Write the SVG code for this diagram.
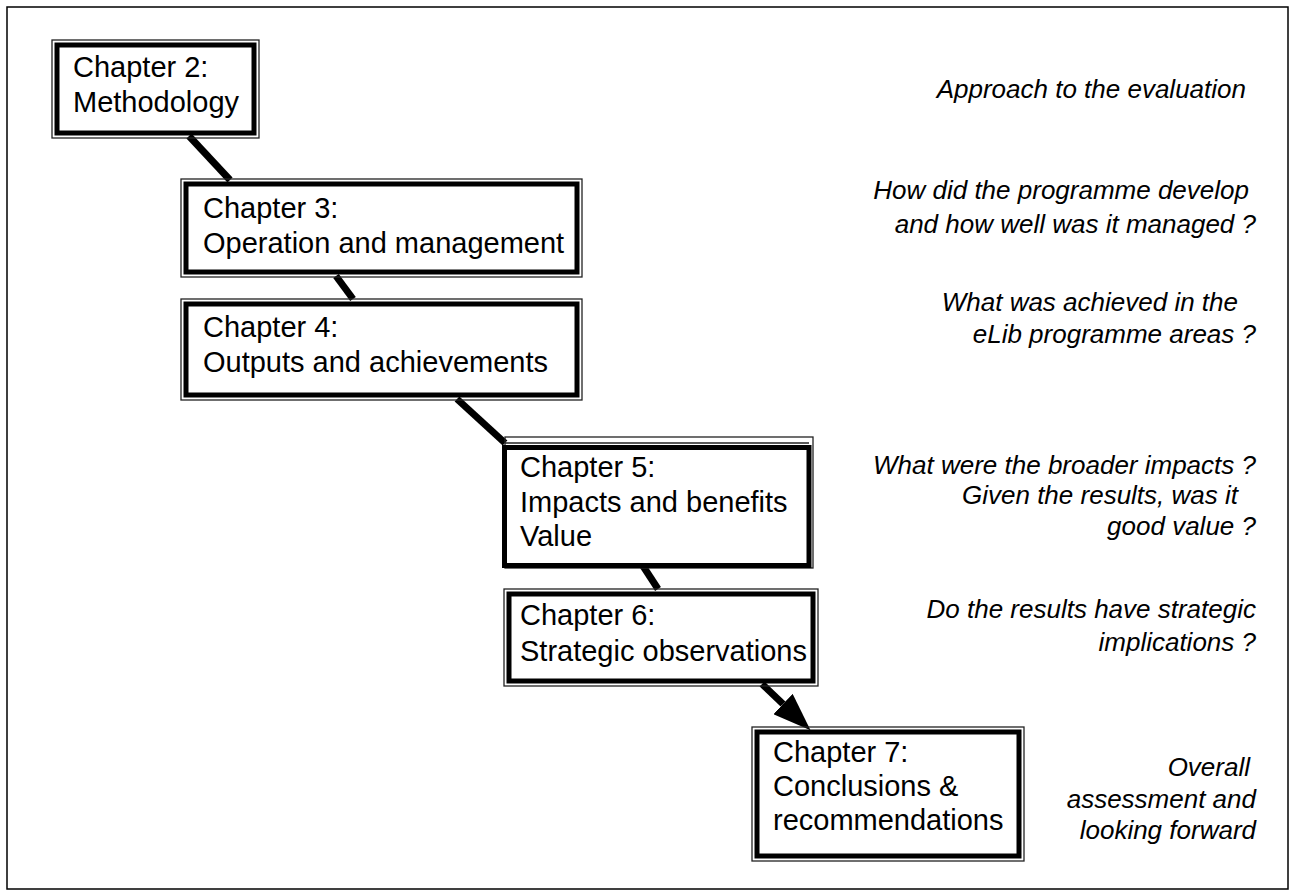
<svg xmlns="http://www.w3.org/2000/svg" width="1295" height="896" viewBox="0 0 1295 896">
<style>
.thin{fill:none;stroke:#222;stroke-width:1.3}
.thick{fill:#fff;stroke:#000;stroke-width:5}
.bt{font-family:"Liberation Sans",Arial,sans-serif;font-size:29px;fill:#000}
.it{font-family:"Liberation Sans",Arial,sans-serif;font-size:26px;font-style:italic;fill:#000;text-anchor:end}
.conn{stroke:#000;stroke-width:7;fill:none}
</style>
<defs>
<marker id="ah" viewBox="0 0 38 28" refX="0" refY="14" markerWidth="38" markerHeight="28" markerUnits="userSpaceOnUse" orient="auto">
<path d="M0,0 L38,14 L0,28 z" fill="#000"/>
</marker>
</defs>
<rect x="0" y="0" width="1295" height="896" fill="#fff"/>
<rect x="7" y="7" width="1281" height="882" fill="none" stroke="#000" stroke-width="1.5"/>
<g id="connectors">
<line class="conn" x1="189" y1="136" x2="230" y2="180"/>
<line class="conn" x1="336" y1="276" x2="353" y2="299"/>
<line class="conn" x1="457" y1="399" x2="505" y2="443"/>
<line class="conn" x1="643" y1="566" x2="658" y2="589"/>
<line class="conn" x1="762" y1="684" x2="783" y2="704" marker-end="url(#ah)"/>
</g>
<g id="ch2">
<rect class="thin" x="52" y="40" width="207" height="98"/>
<rect class="thick" x="57" y="45" width="197" height="88"/>
<text class="bt" x="73" y="77">Chapter 2:</text>
<text class="bt" x="73" y="112">Methodology</text>
</g>
<g id="ch3">
<rect class="thin" x="181" y="179" width="401" height="98"/>
<rect class="thick" x="186" y="184" width="391" height="88"/>
<text class="bt" x="203" y="218">Chapter 3:</text>
<text class="bt" x="203" y="253">Operation and management</text>
</g>
<g id="ch4">
<rect class="thin" x="181" y="299" width="401" height="101"/>
<rect class="thick" x="186" y="304" width="391" height="91"/>
<text class="bt" x="203" y="337">Chapter 4:</text>
<text class="bt" x="203" y="372">Outputs and achievements</text>
</g>
<g id="ch5">
<rect class="thin" x="505" y="437" width="308" height="131"/>
<line class="thin" x1="505" y1="443" x2="809" y2="443"/>
<rect class="thick" x="504.5" y="447.5" width="304.5" height="118"/>
<text class="bt" x="520" y="477">Chapter 5:</text>
<text class="bt" x="520" y="512">Impacts and benefits</text>
<text class="bt" x="520" y="546">Value</text>
</g>
<g id="ch6">
<rect class="thin" x="504" y="589" width="314" height="97"/>
<rect class="thick" x="509" y="594" width="304" height="87"/>
<text class="bt" x="520" y="625">Chapter 6:</text>
<text class="bt" x="520" y="661">Strategic observations</text>
</g>
<g id="ch7">
<rect class="thin" x="752" y="727" width="272" height="134"/>
<rect class="thick" x="757" y="732" width="262" height="124"/>
<text class="bt" x="773" y="762">Chapter 7:</text>
<text class="bt" x="773" y="796">Conclusions &amp;</text>
<text class="bt" x="773" y="830">recommendations</text>
</g>
<g id="notes">
<text class="it" x="1246" y="98">Approach to the evaluation</text>
<text class="it" x="1249" y="199">How did the programme develop</text>
<text class="it" x="1256" y="233">and how well was it managed ?</text>
<text class="it" x="1238" y="311">What was achieved in the</text>
<text class="it" x="1256" y="343">eLib programme areas ?</text>
<text class="it" x="1256" y="474">What were the broader impacts ?</text>
<text class="it" x="1238" y="504">Given the results, was it</text>
<text class="it" x="1256" y="535">good value ?</text>
<text class="it" x="1256" y="618">Do the results have strategic</text>
<text class="it" x="1256" y="651">implications ?</text>
<text class="it" x="1250" y="776">Overall</text>
<text class="it" x="1256" y="808">assessment and</text>
<text class="it" x="1256" y="839">looking forward</text>
</g>
</svg>
